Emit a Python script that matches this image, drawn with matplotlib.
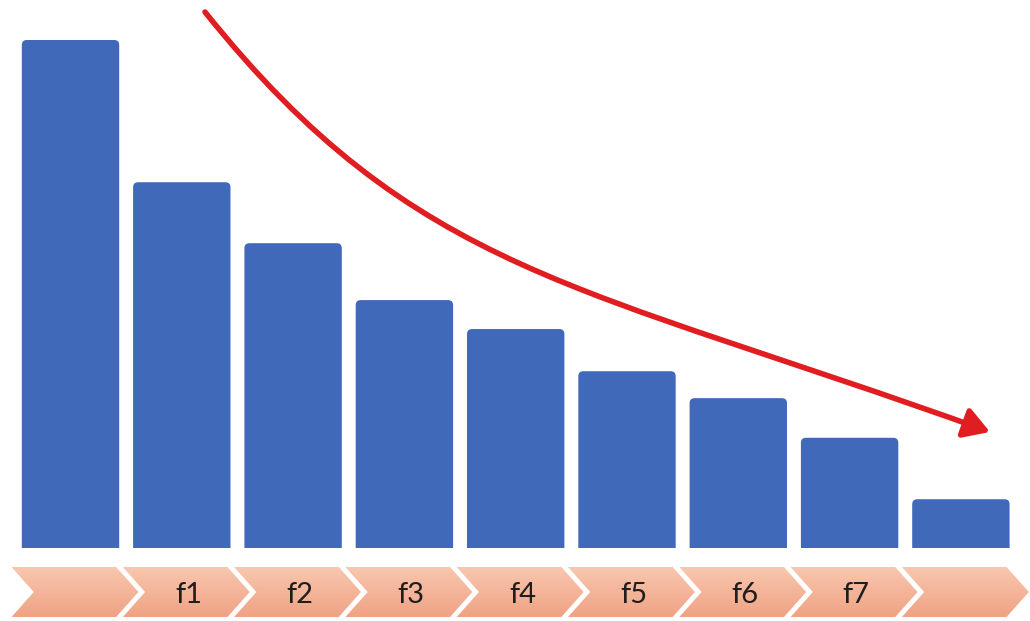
import numpy as np
import matplotlib.pyplot as plt
from matplotlib.patches import Polygon, FancyBboxPatch, FancyArrowPatch
from matplotlib.path import Path
from matplotlib.colors import LinearSegmentedColormap

# bar heights (relative, first bar = 100)
values = [100, 72, 60, 48.8, 43.1, 34.8, 29.5, 21.7, 9.6]
labels = ['', 'f1', 'f2', 'f3', 'f4', 'f5', 'f6', 'f7', '']

bar_color = '#4169B9'
arrow_color = '#E01E22'

W, H = 1030, 621
fig = plt.figure(figsize=(W / 100, H / 100), dpi=100)

x = np.arange(len(values))
xlim = (-70.5 / 111.3, (W - 70.5) / 111.3)

# bar area
ax = fig.add_axes([0, 73 / H, 1, 548 / H])
ax.set_xlim(*xlim)
ax.set_ylim(0, 548 / 508 * 100)
ax.axis('off')

bars = ax.bar(x, values, width=0.875, color=bar_color)
# swap the plain bars for ones with rounded tops
aspect = (548 / 508 * 100) / 548 * 111.3
for rect in bars:
    bx, by = rect.get_x(), rect.get_y()
    bw, bh = rect.get_width(), rect.get_height()
    rect.set_visible(False)
    p = FancyBboxPatch((bx, by - 5), bw, bh + 5,
                       boxstyle='round,pad=0,rounding_size=0.045',
                       mutation_aspect=aspect, fc=bar_color, ec='none')
    ax.add_patch(p)

# chevrons along the bottom
ax2 = fig.add_axes([0, 0, 1, 73 / H])
ax2.set_xlim(*xlim)
ax2.set_ylim(0, 1)
ax2.axis('off')

top, bot = 54 / 73, 4 / 73
mid = (top + bot) / 2
grad = np.linspace(0, 1, 100).reshape(-1, 1)
cmap = LinearSegmentedColormap.from_list('peach', ['#F0A284', '#F8C7AF'])
for i, lab in enumerate(labels):
    pts = [(i - 0.53, top), (i + 0.41, top), (i + 0.61, mid),
           (i + 0.41, bot), (i - 0.53, bot), (i - 0.33, mid)]
    poly = Polygon(pts, closed=True, fc='none', ec='none')
    ax2.add_patch(poly)
    im = ax2.imshow(grad, cmap=cmap, aspect='auto', origin='lower',
                    extent=(i - 0.53, i + 0.61, bot, top), zorder=1)
    im.set_clip_path(poly)
    if lab:
        ax2.text(i + 0.06, 0.36, lab, ha='center', va='center',
                 fontsize=21, family='Lato', color='#1E1E1E', zorder=3)
ax2.set_xlim(*xlim)
ax2.set_ylim(0, 1)

# red trend arrow (pixel positions, y from top)
pts_px = [(205, 12), (415, 274), (580, 284), (990, 432)]
verts = [(px / W, 1 - py / H) for px, py in pts_px]
codes = [Path.MOVETO, Path.CURVE4, Path.CURVE4, Path.CURVE4]
arrow = FancyArrowPatch(path=Path(verts, codes), transform=fig.transFigure,
                        arrowstyle='-|>,head_length=0.45,head_width=0.27',
                        mutation_scale=34, color=arrow_color, lw=4.0,
                        shrinkA=0, shrinkB=0, capstyle='round')
fig.add_artist(arrow)

fig.savefig('out.png', dpi=100)
